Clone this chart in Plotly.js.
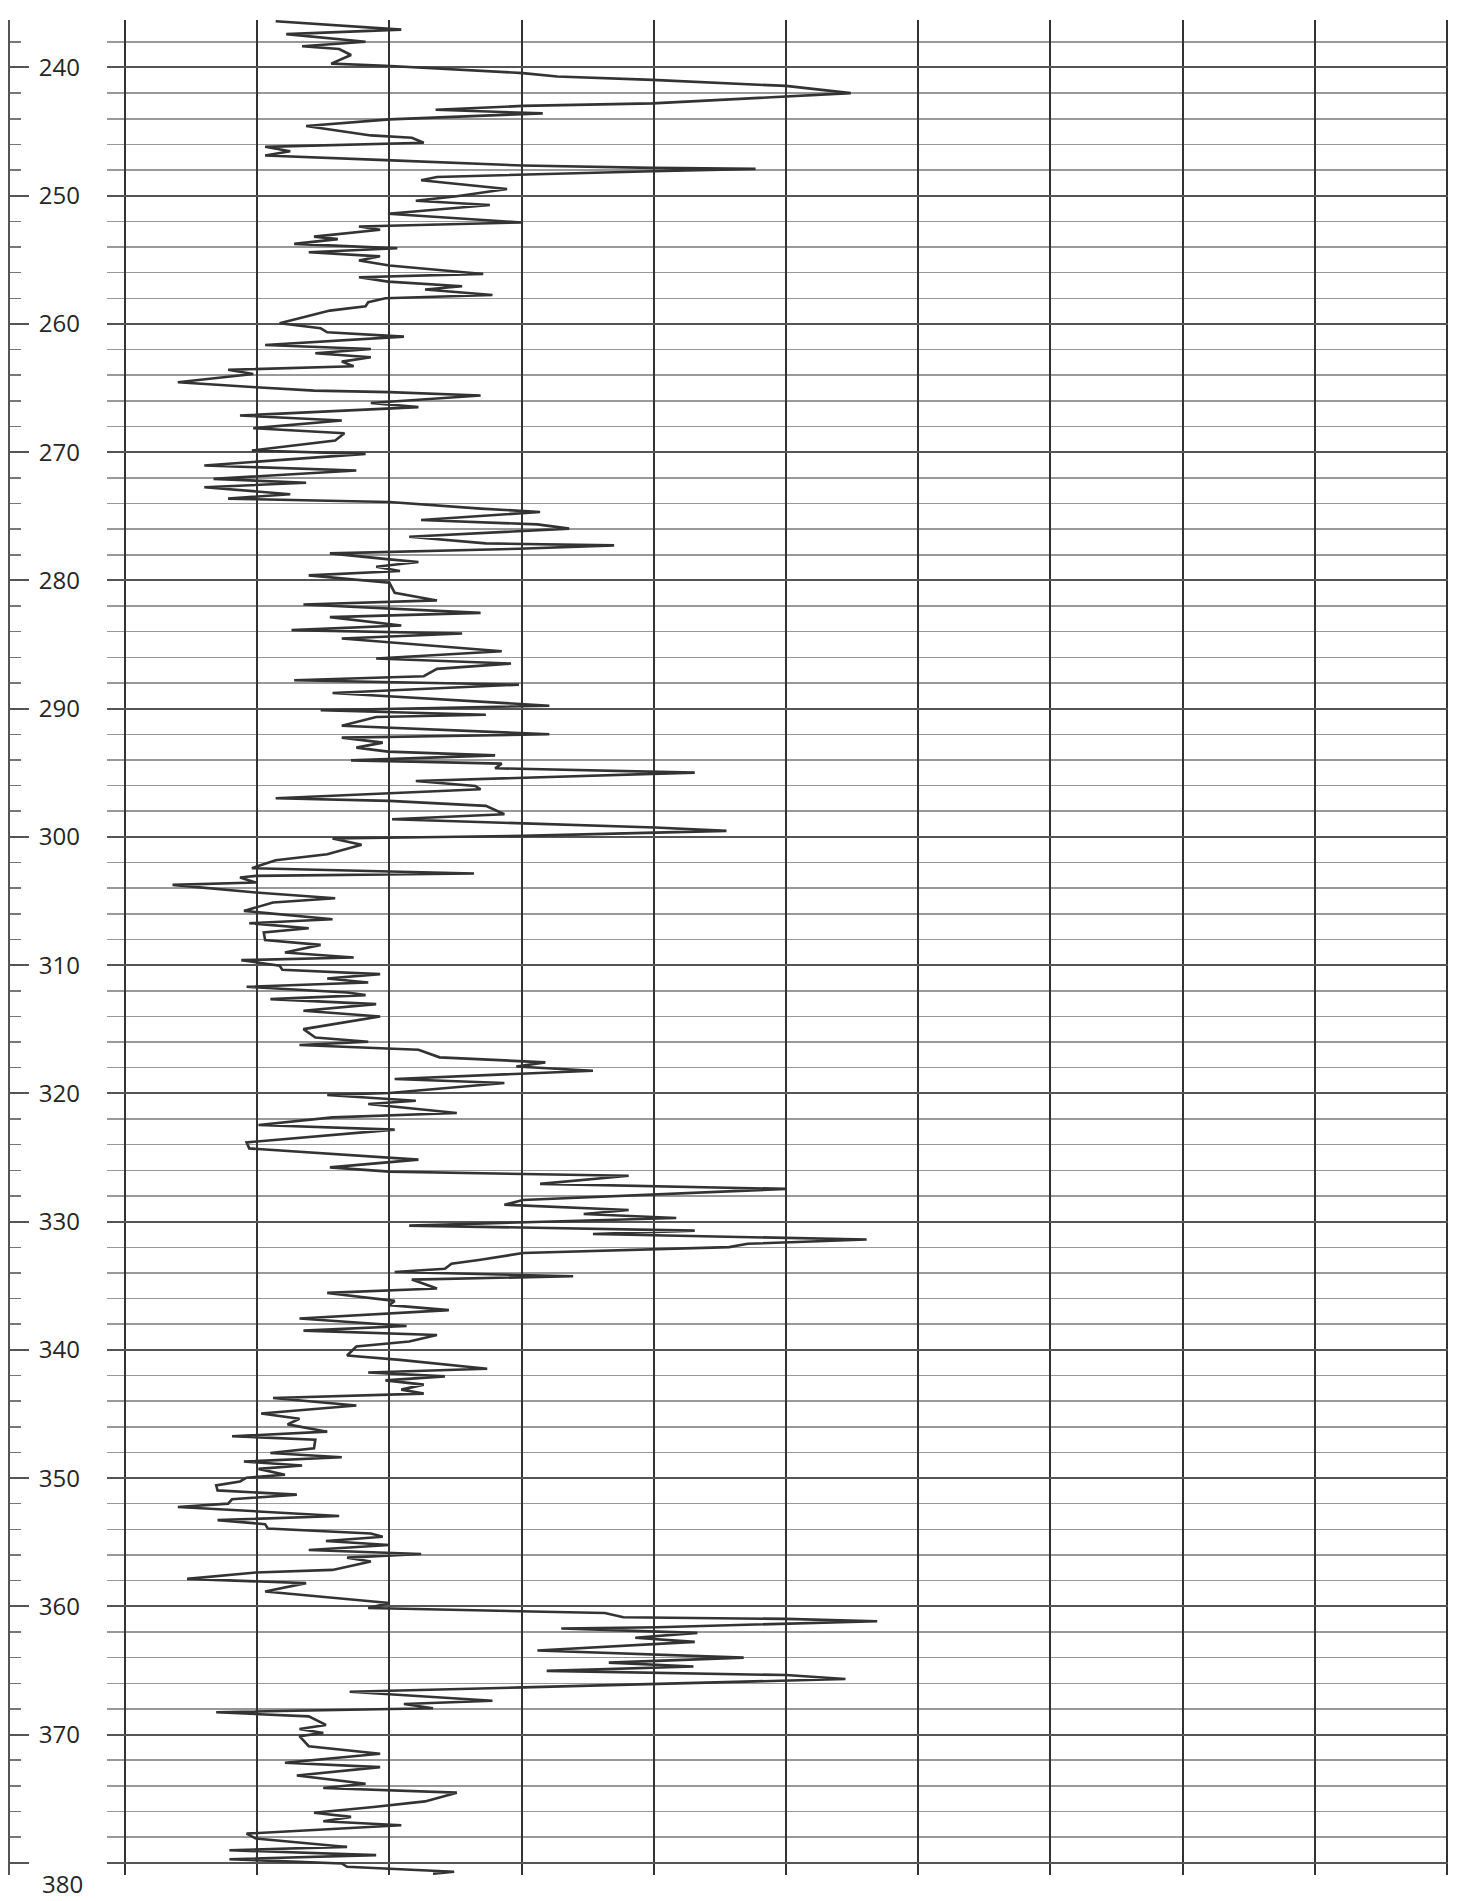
<!DOCTYPE html>
<html>
<head>
<meta charset="utf-8">
<script src="https://cdn.plot.ly/plotly-3.0.1.min.js"></script>
<style>
  html, body { margin: 0; padding: 0; background: #ffffff; }
  #chart { width: 1462px; height: 1901px; }
</style>
</head>
<body>
<div id="chart"></div>
<script>
// Depth of each log sample (y, increasing downward)
const depth = [
  236.4, 237.05, 237.4, 238.0, 238.35, 238.56, 239.03, 239.7, 239.87, 240.44,
  240.7, 240.97, 241.44, 242.0, 242.8, 243.0, 243.3, 243.58, 244.05, 244.57,
  245.3, 245.48, 245.87, 246.19, 246.53, 246.87, 247.23, 247.65, 247.83, 247.91,
  248.09, 248.36, 248.54, 248.8, 249.48, 250.05, 250.39, 250.73, 251.41, 252.09,
  252.4, 252.66, 253.19, 253.39, 253.76, 254.1, 254.41,
  254.73, 255.06, 255.45, 256.1, 256.36, 256.7, 257.06, 257.32, 257.74, 258.0,
  258.31, 258.62, 258.96, 259.4, 259.95, 260.34, 260.65, 260.99, 261.64, 261.95,
  262.29, 262.6, 262.94, 263.3, 263.51, 263.58, 263.9, 264.55, 264.94, 265.2,
  265.32, 265.58, 266.16, 266.49, 267.14, 267.53, 268.13, 268.52, 269.09, 269.87,
  270.13, 271.04, 271.43, 272.08, 272.39, 272.73,
  273.28, 273.62, 273.67, 273.88, 274.4, 274.66, 275.29, 275.63, 275.96, 276.59,
  277.11, 277.27, 277.53, 277.89, 278.36, 278.57, 278.93, 279.27, 279.61, 280.18,
  280.96, 281.56, 281.88, 282.53, 282.86, 283.52, 283.88, 284.14, 284.53, 285.52,
  286.09, 286.48, 286.9, 287.47, 287.79, 288.13, 288.78, 289.77, 290.13, 290.47,
  290.65, 291.33,
  292.0, 292.26, 292.65, 293.04, 293.35, 293.64, 294.03, 294.29, 294.65, 294.99,
  295.64, 296.03, 296.29, 296.99, 297.19, 297.58, 298.23, 298.62, 299.27, 299.53,
  299.92, 300.13, 300.62, 301.35, 301.82, 302.44, 302.86, 303.04, 303.17, 303.56,
  303.74, 304.34, 304.78, 305.12, 305.77, 306.42, 306.73, 307.12, 307.45, 308.05,
  308.42, 309.01, 309.4, 309.61,
  310.05, 310.36, 310.7, 311.04, 311.35, 311.69, 312.13, 312.34, 312.65, 313.04,
  313.56, 314.0, 314.99, 315.64, 315.97, 316.23, 316.6, 317.19, 317.58, 317.9,
  318.23, 318.88, 319.19, 319.97, 320.13, 320.57, 320.83, 321.53, 321.87, 322.47,
  322.83, 323.82, 324.29, 324.99, 325.17, 325.77, 326.1, 326.29, 326.42, 327.06,
  327.25, 327.45,
  328.32, 328.68, 329.1, 329.41, 329.72, 330.31, 330.7, 330.96, 331.4, 331.73,
  331.99, 332.45, 332.97, 333.28, 333.67, 333.93, 334.26, 334.52, 335.22, 335.56,
  336.18, 336.51, 336.9, 337.55, 338.14, 338.5, 338.84, 339.35, 339.74, 340.44,
  340.78, 341.47, 341.76, 342.07, 342.38, 342.71, 343.1, 343.41, 343.75, 344.34,
  344.96, 345.37, 345.81,
  346.38, 346.74, 347.0, 347.67, 348.04, 348.37, 348.71, 349.02, 349.28, 349.74,
  349.97, 350.26, 350.57, 350.96, 351.29, 351.65, 351.99, 352.25, 352.95, 353.28,
  353.59, 353.93, 354.32, 354.57, 354.91, 355.22, 355.61, 355.92, 356.2, 356.51,
  357.16, 357.36, 357.86, 358.19, 358.84, 359.74, 360.13, 360.52, 360.85, 360.98,
  361.16, 361.63, 361.73, 362.07, 362.45, 362.77, 363.44, 364.0, 364.39,
  364.69, 365.03, 365.36, 365.67, 366.32, 366.58, 366.66, 367.36, 367.62, 367.95,
  368.21, 368.26, 368.58, 369.25, 369.56, 369.87, 370.13, 370.91, 371.5, 372.2,
  372.54, 373.19, 373.83, 374.17, 374.53, 375.21, 375.65, 376.09, 376.42, 376.76,
  377.07, 377.72, 378.11, 378.76, 379.02, 379.4, 379.72, 380.05, 380.31, 380.7,
  380.85
];

// Log reading at each depth (x, in grid units: one vertical division = 10)
const gamma = [
  11.4, 20.9, 12.2, 18.2, 13.4, 16.2, 17.1, 15.6, 19.7, 30.1,
  32.7, 39.9, 50.0, 54.9, 39.9, 30.1, 23.5, 31.6, 20.0, 13.7,
  18.6, 21.7, 22.6, 10.6, 12.5, 10.6, 19.7, 30.1, 39.9, 47.7,
  39.9, 30.1, 23.6, 22.4, 28.9, 25.1, 22.0, 27.6, 19.9, 30.0,
  17.7, 19.3, 14.3, 16.1, 12.8, 20.6, 13.9,
  19.3, 17.7, 20.0, 27.1, 17.7, 19.9, 25.5, 22.7, 27.8, 19.7,
  18.4, 18.2, 15.5, 13.9, 11.7, 14.8, 15.3, 21.1, 10.6, 18.6,
  14.4, 18.6, 16.4, 17.3, 9.9, 7.8, 9.7, 4.0, 9.9, 14.3,
  20.0, 26.9, 18.6, 22.2, 8.7, 16.4, 9.7, 16.6, 15.9, 9.6,
  18.2, 6.0, 17.5, 6.7, 13.7, 6.0,
  12.5, 7.8, 9.9, 20.0, 26.9, 31.4, 22.4, 31.2, 33.6, 21.5,
  27.3, 37.0, 29.8, 15.5, 20.0, 22.2, 19.0, 20.8, 13.9, 20.0,
  20.4, 23.6, 13.5, 26.9, 15.5, 20.9, 12.6, 25.5, 16.4, 28.5,
  19.0, 29.2, 23.6, 22.6, 12.8, 29.8, 15.7, 32.1, 14.8, 27.3,
  19.0, 16.4,
  32.1, 16.4, 19.5, 17.5, 19.9, 28.0, 17.1, 28.5, 28.0, 43.1,
  22.0, 26.5, 26.9, 11.4, 20.0, 27.3, 28.7, 20.2, 40.1, 45.5,
  30.1, 15.7, 17.9, 15.3, 11.4, 9.6, 26.4, 9.9, 8.7, 9.9,
  3.6, 9.9, 15.9, 11.2, 9.0, 15.7, 9.4, 13.9, 10.5, 10.6,
  14.8, 12.1, 17.3, 8.8,
  11.7, 11.9, 19.3, 15.3, 18.4, 9.2, 16.8, 18.2, 11.0, 19.0,
  13.5, 19.3, 13.5, 14.4, 18.4, 13.2, 22.2, 23.8, 31.8, 29.6,
  35.4, 20.4, 28.7, 20.0, 15.3, 22.0, 18.4, 25.1, 15.7, 10.1,
  20.4, 9.2, 9.4, 20.0, 22.2, 15.5, 20.0, 30.1, 38.1, 31.4,
  39.9, 50.0,
  30.1, 28.7, 38.1, 34.7, 41.7, 21.5, 43.1, 35.4, 56.1, 47.1,
  45.7, 30.1, 26.9, 24.7, 24.2, 20.4, 33.9, 21.7, 23.6, 15.3,
  20.4, 20.0, 24.5, 13.2, 21.3, 13.5, 23.6, 21.5, 17.5, 16.8,
  20.8, 27.4, 18.4, 24.2, 19.7, 22.6, 20.9, 22.6, 11.2, 17.5,
  10.3, 13.2, 12.3,
  15.3, 8.1, 14.4, 14.3, 11.0, 16.4, 9.0, 13.4, 10.1, 12.1,
  9.2, 8.7, 6.9, 7.0, 13.0, 8.1, 7.8, 4.0, 16.2, 7.0,
  10.6, 10.8, 18.6, 19.5, 15.2, 20.0, 13.9, 22.4, 16.8, 18.6,
  15.7, 9.9, 4.7, 13.7, 10.6, 20.0, 18.4, 36.3, 37.7, 50.0,
  56.9, 40.3, 33.0, 43.3, 38.6, 43.1, 31.2, 46.8, 36.6,
  43.0, 31.9, 50.0, 54.5, 30.1, 20.0, 17.0, 27.8, 21.1, 23.3,
  9.9, 6.9, 13.9, 15.2, 13.2, 15.0, 13.2, 13.9, 19.3, 12.1,
  19.3, 13.0, 18.2, 15.0, 25.1, 22.7, 18.8, 14.3, 17.1, 15.0,
  20.9, 9.2, 9.9, 16.8, 7.9, 19.0, 7.9, 16.4, 16.8, 24.9,
  23.3
];

// Grid columns (vertical lines) and depth labels
const columnLines = [0, 10, 20, 30, 40, 50, 60, 70, 80, 90, 100];
const depthTicks = [240, 250, 260, 270, 280, 290, 300, 310, 320, 330, 340, 350, 360, 370, 380];
const depthLabels = ['240', '250', '260', '270', '280', '290', '300', '310', '320', '330', '340', '350', '360', '370', ''];
const bottomLabel = '380';

const W = 1462;
const labelFont = { family: 'Open Sans, Noto Sans, sans-serif', size: 24, color: '#262626' };

const trace = {
  type: 'scatter',
  mode: 'lines',
  x: gamma,
  y: depth,
  line: { color: '#333333', width: 2.6 },
  hoverinfo: 'skip',
  showlegend: false
};

const layout = {
  width: 1462,
  height: 1901,
  margin: { l: 0, r: 0, t: 20, b: 26, pad: 0 },
  paper_bgcolor: '#ffffff',
  plot_bgcolor: '#ffffff',
  showlegend: false,
  xaxis: {
    domain: [107 / W, 1448 / W],
    range: [-1.36, 100.08],
    tickmode: 'array',
    tickvals: columnLines,
    showticklabels: false,
    ticks: '',
    showgrid: true,
    gridcolor: '#333333',
    gridwidth: 2,
    zeroline: false,
    showline: false,
    fixedrange: true
  },
  yaxis: {
    range: [380.95, 236.3],
    anchor: 'free',
    position: 9 / W,
    side: 'right',
    showline: true,
    linecolor: '#555555',
    linewidth: 2,
    tickmode: 'array',
    tickvals: depthTicks,
    ticktext: depthLabels,
    ticks: 'outside',
    ticklen: 19,
    tickwidth: 2,
    tickcolor: '#555555',
    tickfont: labelFont,
    ticklabelstandoff: 5,
    showgrid: true,
    gridcolor: '#555555',
    gridwidth: 2,
    zeroline: false,
    fixedrange: true,
    minor: {
      tickmode: 'linear',
      tick0: 0,
      dtick: 2,
      ticks: 'outside',
      ticklen: 11,
      tickwidth: 1.5,
      tickcolor: '#777777',
      showgrid: true,
      gridcolor: '#999999',
      gridwidth: 1.5
    }
  },
  annotations: [{
    text: bottomLabel,
    xref: 'paper',
    yref: 'y',
    x: 40 / W,
    y: 380,
    xanchor: 'left',
    yanchor: 'middle',
    yshift: -21,
    showarrow: false,
    font: labelFont
  }]
};

Plotly.newPlot('chart', [trace], layout, { staticPlot: true, displayModeBar: false });
</script>
</body>
</html>
